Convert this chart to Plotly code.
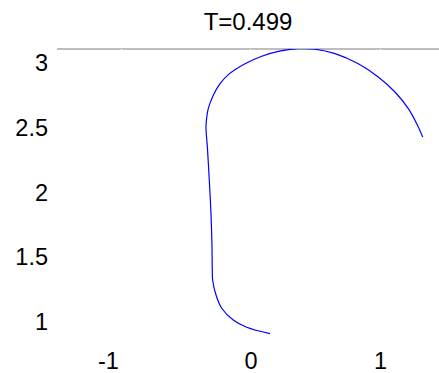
import plotly.graph_objects as go

# Curve samples at T=0.499 (x, y), from the lower tip round to the right-hand end
curve_x = [0.147, -0.033, -0.137, -0.226, -0.27, -0.296, -0.299, -0.301,
           -0.309, -0.322, -0.337, -0.347, -0.347, -0.33, -0.291, -0.239,
           -0.175, -0.046, 0.083, 0.211, 0.365, 0.494, 0.649, 0.829,
           0.983, 1.112, 1.215, 1.280, 1.326]
curve_y = [0.910, 0.959, 1.015, 1.106, 1.208, 1.324, 1.40, 1.581,
           1.839, 2.097, 2.355, 2.483, 2.519, 2.647, 2.751, 2.840,
           2.910, 2.994, 3.052, 3.090, 3.110, 3.106, 3.072, 2.994,
           2.892, 2.776, 2.647, 2.531, 2.429]

x_ticks = [-1, 0, 1]
x_labels = ["-1&nbsp;&nbsp;&nbsp;&nbsp;", "0", "1"]
y_ticks = [1, 1.5, 2, 2.5, 3]
y_labels = ["1", "1.5", "2", "2.5", "3"]
title_text = "T=0.499"

FONT = "Liberation Sans, Arial, sans-serif"

fig = go.Figure()
fig.add_trace(go.Scatter(x=curve_x, y=curve_y, mode="lines",
                         line=dict(color="#0000ff", width=1.2, shape="spline", smoothing=1),
                         hoverinfo="skip", showlegend=False))

# grey rule along the top edge of the plotting area (white x grid lines cross it)
fig.add_shape(type="line", xref="paper", yref="paper", x0=0, x1=1, y0=1, y1=1,
              line=dict(color="rgb(190,190,190)", width=2), layer="below")

fig.update_layout(
    width=439, height=373,
    margin=dict(l=57, r=0, t=49, b=36),
    plot_bgcolor="white", paper_bgcolor="white",
    font=dict(family=FONT, size=23.5, color="black"),
    title=dict(text=title_text, x=0.5, xref="paper", xanchor="center",
               y=0.943, yref="container", yanchor="middle",
               font=dict(family=FONT, size=24, color="black")),
)
fig.update_xaxes(range=[-1.498, 1.452], tickvals=x_ticks, ticktext=x_labels,
                 showgrid=True, gridcolor="white", gridwidth=1, zeroline=False,
                 showline=False, ticks="", ticklabelstandoff=7)
fig.update_yaxes(range=[0.884, 3.108], tickvals=y_ticks, ticktext=y_labels,
                 showgrid=False, zeroline=False, showline=False, ticks="",
                 ticklabelstandoff=8)

fig.write_html("out.html")
